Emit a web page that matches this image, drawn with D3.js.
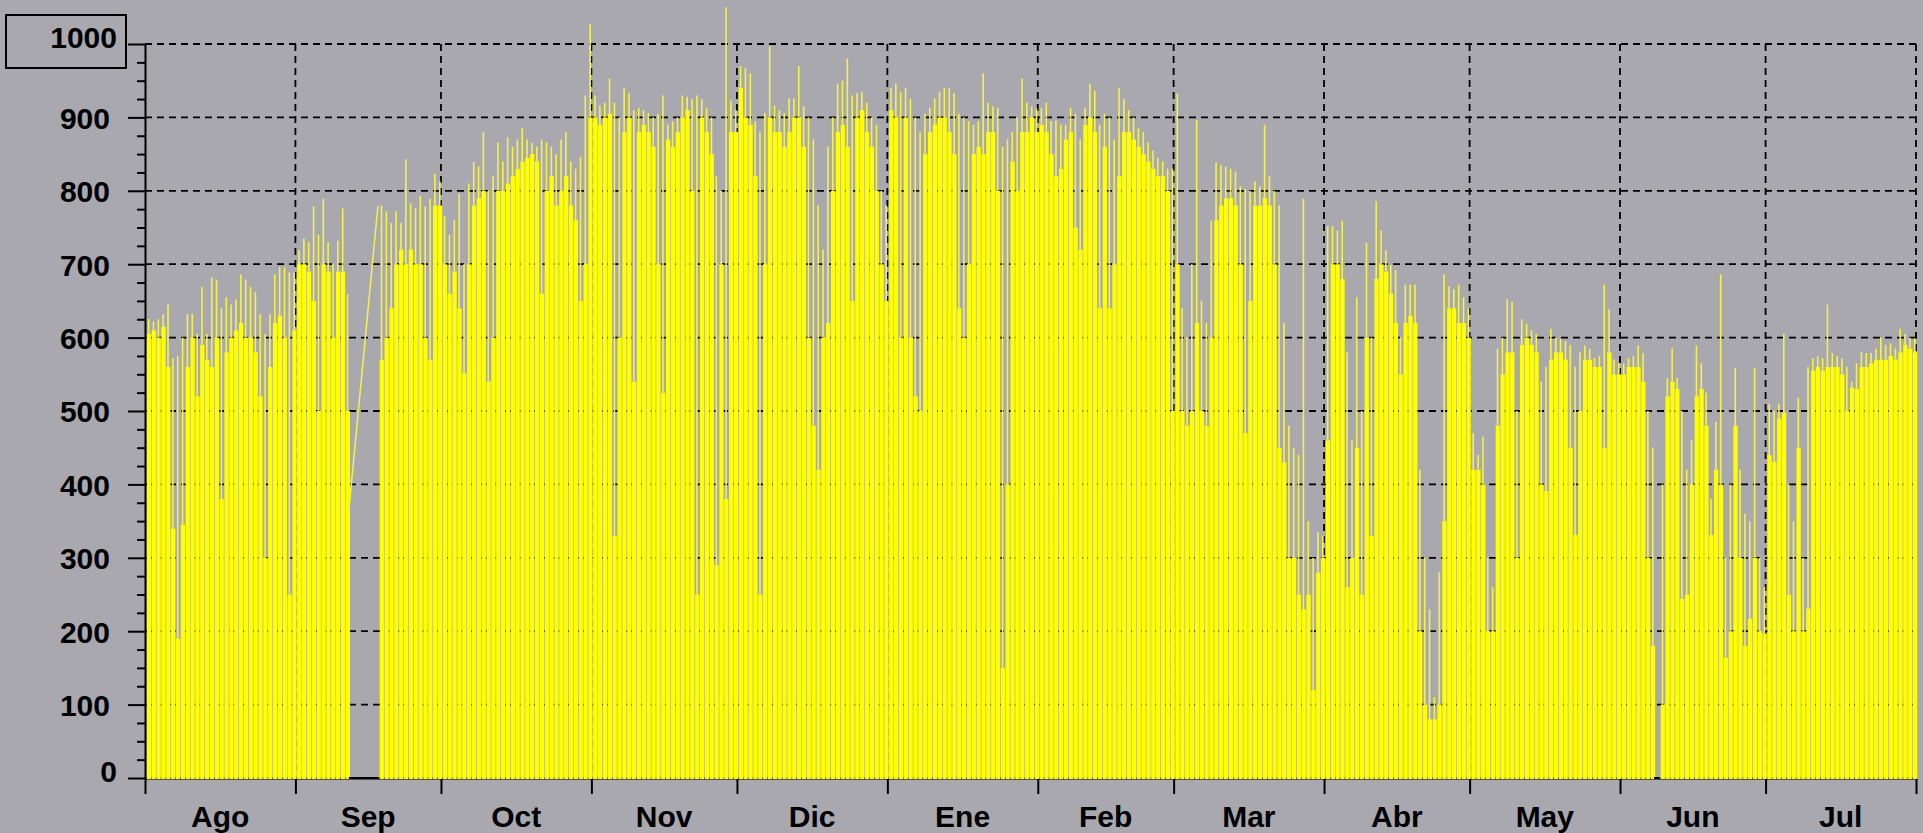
<!DOCTYPE html>
<html>
<head>
<meta charset="utf-8">
<script src="https://cdn.jsdelivr.net/npm/d3@7"></script>
<style>
  html, body { margin: 0; padding: 0; background: #a9a8ae; overflow: hidden; }
  svg { display: block; }
  text { font-family: "Liberation Sans", Arial, sans-serif; font-weight: bold; fill: #000; }
</style>
</head>
<body>
<div id="chart"></div>
<script>
// months shown on the x axis (Aug -> Jul), days per month
const monthNames = ["Ago", "Sep", "Oct", "Nov", "Dic", "Ene", "Feb", "Mar", "Abr", "May", "Jun", "Jul"];
const monthDays = [31, 30, 31, 30, 31, 31, 28, 31, 30, 31, 30, 31];
const yTicks = [0, 100, 200, 300, 400, 500, 600, 700, 800, 900, 1000];

// daily maximum (thin spike) and sustained level (solid fill), W/m2
const agoPeak = [625, 622, 625, 632, 645, 572, 575, 600, 632, 632, 605, 669, 605, 682, 679, 640, 655, 645, 652, 686, 679, 669, 662, 632, 605, 632, 686, 696, 696, 689, 689];
const agoBody = [605, 610, 600, 615, 560, 340, 190, 345, 560, 600, 520, 590, 570, 560, 600, 380, 580, 600, 610, 620, 600, 600, 580, 520, 300, 560, 620, 630, 600, 250, 610];
const sepPeak = [719, 735, 730, 779, 740, 789, 730, 700, 732, 776, 659, null, null, null, null, null, null, 780, 772, 756, 772, 756, 843, 783, 776, 793, 779, 789, 823, 813];
const sepBody = [700, 700, 690, 650, 500, 700, 690, 600, 690, 690, 500, null, null, null, null, null, null, 570, 600, 640, 700, 720, 700, 720, 700, 700, 600, 570, 780, 780];
const octPeak = [766, 740, 760, 796, 700, 810, 839, 833, 880, 800, 820, 866, 840, 873, 860, 870, 886, 870, 865, 860, 870, 866, 860, 850, 870, 880, 840, 830, 846, 930, 1027];
const octBody = [700, 660, 690, 640, 552, 700, 780, 790, 800, 540, 600, 800, 800, 810, 820, 830, 840, 845, 850, 840, 660, 800, 820, 780, 800, 820, 780, 760, 650, 700, 900];
const novPeak = [930, 916, 920, 953, 920, 900, 940, 933, 910, 913, 910, 906, 900, 905, 930, 890, 895, 900, 930, 928, 925, 930, 925, 913, 900, 820, 800, 1050, 923, 910];
const novBody = [900, 890, 900, 905, 330, 600, 880, 900, 540, 880, 890, 880, 860, 700, 525, 870, 860, 880, 900, 910, 800, 250, 900, 880, 850, 290, 700, 380, 880, 880];
const dicPeak = [970, 967, 960, 895, 880, 906, 997, 916, 910, 906, 926, 926, 970, 915, 900, 870, 780, 720, 860, 900, 946, 950, 980, 930, 933, 935, 920, 900, 890, 800, 780];
const dicBody = [940, 900, 890, 820, 250, 700, 900, 880, 880, 860, 880, 900, 900, 860, 600, 480, 420, 600, 620, 800, 880, 890, 860, 650, 900, 910, 880, 860, 800, 700, 650];
const enePeak = [940, 946, 935, 940, 925, 900, 880, 905, 913, 926, 935, 940, 940, 933, 905, 900, 895, 890, 895, 960, 920, 915, 913, 860, 870, 880, 900, 953, 920, 915, 912];
const eneBody = [910, 900, 600, 900, 600, 520, 500, 850, 880, 890, 900, 900, 880, 850, 640, 600, 700, 850, 860, 850, 880, 880, 800, 150, 400, 840, 800, 880, 880, 900, 880];
const febPeak = [913, 920, 895, 896, 890, 890, 913, 905, 870, 913, 946, 936, 890, 905, 900, 870, 940, 925, 910, 900, 885, 880, 866, 855, 845, 840, 830, 830];
const febBody = [890, 880, 850, 820, 830, 870, 880, 750, 720, 890, 900, 880, 640, 860, 640, 700, 820, 880, 880, 870, 860, 850, 840, 830, 820, 820, 800, 500];
const marPeak = [933, 640, 600, 700, 896, 650, 620, 759, 839, 835, 833, 830, 826, 806, 803, 800, 813, 806, 890, 820, 800, 780, 620, 480, 450, 440, 789, 350, 300, 335, 330];
const marBody = [700, 500, 480, 500, 620, 500, 480, 600, 760, 780, 790, 790, 780, 700, 470, 650, 780, 780, 790, 780, 700, 450, 430, 300, 300, 250, 230, 250, 120, 280, 300];
const abrPeak = [752, 752, 746, 759, 580, 460, 655, 500, 729, 600, 786, 746, 719, 699, 692, 600, 672, 672, 672, 420, 300, 230, 110, 280, 686, 670, 666, 672, 655, 640];
const abrBody = [460, 700, 700, 680, 260, 300, 450, 250, 600, 330, 680, 700, 690, 660, 620, 550, 620, 630, 620, 200, 100, 80, 80, 100, 350, 640, 640, 620, 620, 600];
const mayPeak = [470, 440, 465, 300, 260, 585, 600, 652, 649, 500, 625, 619, 610, 605, 540, 560, 612, 600, 598, 595, 590, 560, 580, 589, 585, 572, 575, 672, 639, 570, 565];
const mayBody = [420, 420, 400, 200, 200, 480, 550, 580, 580, 300, 590, 600, 590, 580, 400, 391, 570, 580, 580, 570, 450, 331, 500, 570, 570, 560, 560, 450, 580, 550, 550];
const junPeak = [565, 572, 575, 589, 579, 500, 450, 0, 400, 545, 585, 545, 500, 420, 460, 589, 565, 525, 380, 485, 686, 300, 400, 559, 420, 360, 350, 559, 300, 260];
const junBody = [550, 560, 560, 560, 540, 300, 180, 0, 100, 520, 540, 530, 244, 250, 400, 520, 530, 480, 331, 420, 400, 164, 200, 480, 300, 180, 217, 300, 200, 197];
const julPeak = [510, 500, 510, 605, 400, 350, 518, 300, 560, 572, 575, 572, 645, 579, 575, 572, 560, 540, 565, 580, 579, 579, 585, 600, 590, 592, 585, 612, 605, 600, 599];
const julBody = [440, 431, 490, 498, 250, 200, 450, 200, 231, 555, 560, 555, 560, 560, 560, 550, 500, 532, 530, 560, 560, 565, 570, 570, 570, 575, 570, 580, 590, 585, 580];

// values the logger drew across the missing September days
const gapBridge = [364, 779];

const width = 1923;
const height = 833;
const margin = { top: 44, right: 7, bottom: 55, left: 145 };

const peaks = [].concat(agoPeak, sepPeak, octPeak, novPeak, dicPeak, enePeak, febPeak, marPeak, abrPeak, mayPeak, junPeak, julPeak);
const bodies = [].concat(agoBody, sepBody, octBody, novBody, dicBody, eneBody, febBody, marBody, abrBody, mayBody, junBody, julBody);
const days = peaks.map((p, i) => ({ i: i, peak: p, body: bodies[i] }));

const monthEnds = Array.from(d3.cumsum(monthDays));
const monthStarts = [0].concat(monthEnds.slice(0, -1));

const x = d3.scaleLinear()
  .domain([0, d3.sum(monthDays)])
  .range([margin.left, width - margin.right]);

const y = d3.scaleLinear()
  .domain([0, 1000])
  .range([height - margin.bottom, margin.top]);

const svg = d3.select('#chart').append('svg')
  .attr('width', width)
  .attr('height', height);

svg.append('rect')
  .attr('width', width)
  .attr('height', height)
  .attr('fill', '#a9a8ae');

// dashed grid, drawn behind the data
const grid = svg.append('g')
  .attr('stroke', '#000')
  .attr('stroke-width', 1.8)
  .attr('stroke-dasharray', '7,5');

grid.selectAll('line.h')
  .data(yTicks.filter(t => t > 0))
  .enter()
  .append('line')
  .attr('class', 'h')
  .attr('x1', x(0))
  .attr('x2', x.range()[1])
  .attr('y1', d => y(d))
  .attr('y2', d => y(d));

grid.selectAll('line.v')
  .data(monthEnds)
  .enter()
  .append('line')
  .attr('class', 'v')
  .attr('x1', d => x(d))
  .attr('x2', d => x(d))
  .attr('y1', y(1000))
  .attr('y2', y(0));

// x axis: ticks at month boundaries
const xAxis = d3.axisBottom(x)
  .tickValues([0].concat(monthEnds))
  .tickSize(16)
  .tickSizeOuter(0)
  .tickFormat('');

const gx = svg.append('g')
  .attr('transform', `translate(0,${y(0)})`)
  .call(xAxis);
gx.select('.domain').attr('stroke', '#000').attr('stroke-width', 2);
gx.selectAll('.tick line').attr('stroke', '#000').attr('stroke-width', 2);

// data: solid daily fill plus the daily maximum spike
// the night gap falls just after the day boundary so the month grid stays hidden
const gap = 0.6;
const shift = 1.2;
const data = svg.append('g');

data.selectAll('rect.body')
  .data(days.filter(d => d.body !== null && d.body > 0))
  .enter()
  .append('rect')
  .attr('class', 'body')
  .attr('x', d => x(d.i) + shift + gap)
  .attr('width', d => x(d.i + 1) - x(d.i) - gap)
  .attr('y', d => y(d.body))
  .attr('height', d => y(0) - y(d.body) + 1)
  .attr('fill', '#ffff00');

data.selectAll('rect.spike')
  .data(days.filter(d => d.peak !== null && d.peak > d.body))
  .enter()
  .append('rect')
  .attr('class', 'spike')
  .attr('x', d => x(d.i + 0.5) + shift - 0.8)
  .attr('width', 1.6)
  .attr('y', d => y(d.peak))
  .attr('height', d => y(d.body) - y(d.peak))
  .attr('fill', '#f4f24a');

// missing / zero days sit on the black baseline
const empty = days.filter(d => d.peak === null || d.peak === 0);
data.selectAll('line.empty')
  .data(empty)
  .enter()
  .append('line')
  .attr('x1', d => x(d.i))
  .attr('x2', d => x(d.i + 1))
  .attr('y1', y(0))
  .attr('y2', y(0))
  .attr('stroke', '#000')
  .attr('stroke-width', 2);

const missing = days.filter(d => d.peak === null);
if (missing.length) {
  data.append('line')
    .attr('x1', x(missing[0].i))
    .attr('x2', x(missing[missing.length - 1].i + 1))
    .attr('y1', y(gapBridge[0]))
    .attr('y2', y(gapBridge[1]))
    .attr('stroke', '#f4f24a')
    .attr('stroke-width', 1.5);
}

// y axis with minor ticks every 25
const yMinor = d3.axisLeft(y)
  .tickValues(d3.range(0, 1001, 25).filter(v => v % 100 !== 0))
  .tickSize(8)
  .tickFormat('');

const gyMinor = svg.append('g')
  .attr('transform', `translate(${x(0)},0)`)
  .call(yMinor);
gyMinor.select('.domain').remove();
gyMinor.selectAll('.tick line').attr('stroke', '#000').attr('stroke-width', 2);

const yAxis = d3.axisLeft(y)
  .tickValues(yTicks)
  .tickSize(17)
  .tickSizeOuter(0)
  .tickPadding(18)
  .tickFormat(d3.format('d'));

const gy = svg.append('g')
  .attr('transform', `translate(${x(0)},0)`)
  .call(yAxis);
gy.select('.domain').attr('stroke', '#000').attr('stroke-width', 2);
gy.selectAll('.tick line').attr('stroke', '#000').attr('stroke-width', 2);
gy.selectAll('.tick text')
  .attr('font-size', 30)
  .attr('font-family', '"Liberation Sans", Arial, sans-serif')
  .attr('font-weight', 'bold')
  .attr('fill', '#000')
  .attr('dy', '0.36em');

// end labels sit a little higher and further right
gy.selectAll('.tick')
  .filter(d => d === 0 || d === 1000)
  .select('text')
  .attr('x', -28)
  .attr('dy', '0.12em');

// box round the top label
svg.append('rect')
  .attr('x', 6)
  .attr('y', y(1000) - 29)
  .attr('width', 120)
  .attr('height', 53)
  .attr('fill', 'none')
  .attr('stroke', '#000')
  .attr('stroke-width', 2);

// month names centred in each month
svg.append('g')
  .selectAll('text')
  .data(monthNames)
  .enter()
  .append('text')
  .attr('x', (d, i) => x((monthStarts[i] + monthEnds[i]) / 2))
  .attr('y', y(0) + 49)
  .attr('text-anchor', 'middle')
  .attr('font-size', 30)
  .text(d => d);
</script>
</body>
</html>
